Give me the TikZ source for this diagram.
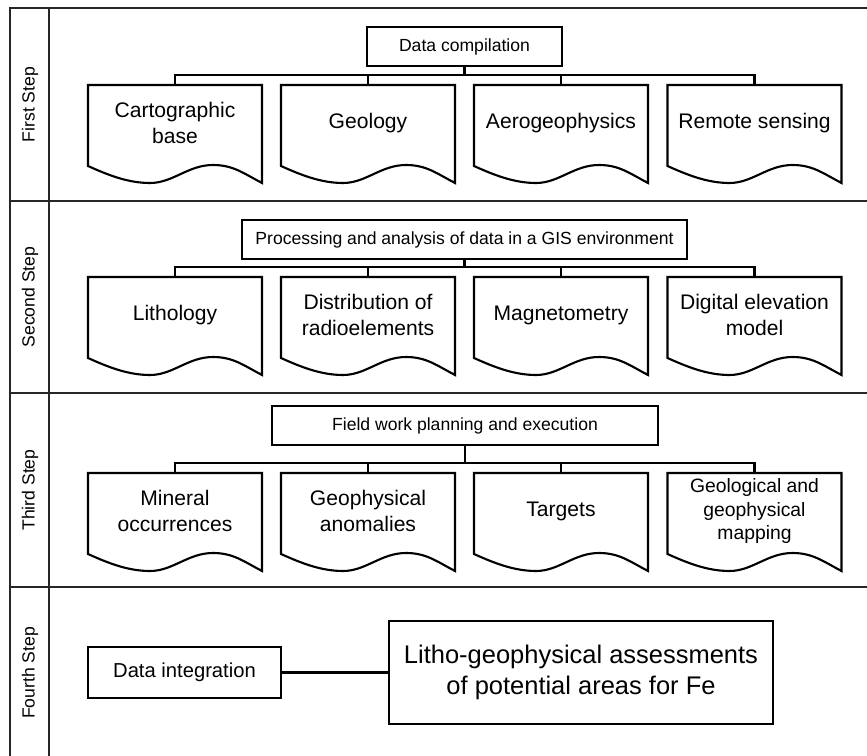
\documentclass[tikz,border=0pt]{standalone}
\usepackage{fontspec}
\setmainfont{Liberation Sans}
\usetikzlibrary{calc,positioning}
\tikzset{
  frameline/.style={line width=1.3pt, black!85},
  titlebox/.style={rectangle, draw, line width=1.2pt, minimum height=7.8mm,
                   inner sep=2pt, font=\fontsize{10}{12}\selectfont},
  docbox/.style={rectangle, minimum width=34.8mm, minimum height=15.2mm,
                 inner sep=1pt, align=center, font=\fontsize{12}{14.4}\selectfont},
  docline/.style={line width=1.2pt, line join=miter},
  steplabel/.style={rotate=90, font=\fontsize{10}{12}\selectfont},
  link/.style={line width=1.2pt},
  endbox/.style={rectangle, draw, line width=1.2pt, align=center, inner sep=2pt},
}
\begin{document}
\begin{tikzpicture}[x=0.2mm, y=-0.2mm]
  \useasboundingbox (0,0) rectangle (867,756);
  \draw[frameline] (867,8) -- (10,8) -- (10,756);
  \draw[frameline] (49,8) -- (49,756);
  \foreach \y in {201,393,587}
    \draw[frameline] (10,\y) -- (867,\y);

  \node[steplabel] (s1) at (30,104.5) {First Step};
  \node[steplabel] (s2) at (30,297) {Second Step};
  \node[steplabel] (s3) at (30,490) {Third Step};
  \node[steplabel] (s4) at (30,673) {Fourth Step};

  \node[titlebox, minimum width=39mm] (t1) at (464.5,46.5) {Data compilation};
  \node[docbox] (cb)   at (175,123) {Cartographic\\base};
  \node[docbox] (geo)  at (368,123) {Geology};
  \node[docbox] (aero) at (561,123) {Aerogeophysics};
  \node[docbox] (rs)   at (754.5,123) {Remote sensing};

  \node[titlebox, minimum width=89mm] (t2) at (464.5,239.5) {Processing and analysis of data in a GIS environment};
  \node[docbox] (lith) at (175,315) {Lithology};
  \node[docbox] (rad)  at (368,315) {Distribution of\\radioelements};
  \node[docbox] (mag)  at (561,315) {Magnetometry};
  \node[docbox] (dem)  at (754.5,315) {Digital elevation\\model};

  \node[titlebox, minimum width=77.2mm] (t3) at (465,425.5) {Field work planning and execution};
  \node[docbox] (occ)  at (175,511) {Mineral\\occurrences};
  \node[docbox] (anom) at (368,511) {Geophysical\\anomalies};
  \node[docbox] (targ) at (561,511) {Targets};
  \node[docbox, font=\fontsize{11}{13.2}\selectfont] (gmap) at (754.5,511) {Geological and\\geophysical\\mapping};

  \node[endbox, minimum width=38.6mm, minimum height=10.2mm,
        font=\fontsize{11.5}{14}\selectfont] (integ) at (184.5,672.5) {Data integration};
  \node[endbox, minimum width=76.8mm, minimum height=20.6mm,
        font=\fontsize{14.5}{17.4}\selectfont] (fe) at (581,672.5) {Litho-geophysical assessments\\of potential areas for Fe};
  \draw[link] (integ) -- (fe);

  \foreach \t/\d in {t1/cb,t1/geo,t1/aero,t1/rs,t2/lith,t2/rad,t2/mag,t2/dem,t3/occ,t3/anom,t3/targ,t3/gmap}
    \draw[link] (\t.south) |- ([yshift=1.9mm]\d.north) -- (\d.north);

  \foreach \d in {cb,geo,aero,rs,lith,rad,mag,dem,occ,anom,targ,gmap}
    \draw[docline, shift={(\d.center)}] (-87,-38) -- (87,-38) -- (87,60)
      .. controls (68,50) and (58,42) .. (38,42)
      .. controls (13,42) and (-2,60) .. (-25,60)
      .. controls (-47,60) and (-67,52) .. (-87,43) -- cycle;
\end{tikzpicture}
\end{document}
